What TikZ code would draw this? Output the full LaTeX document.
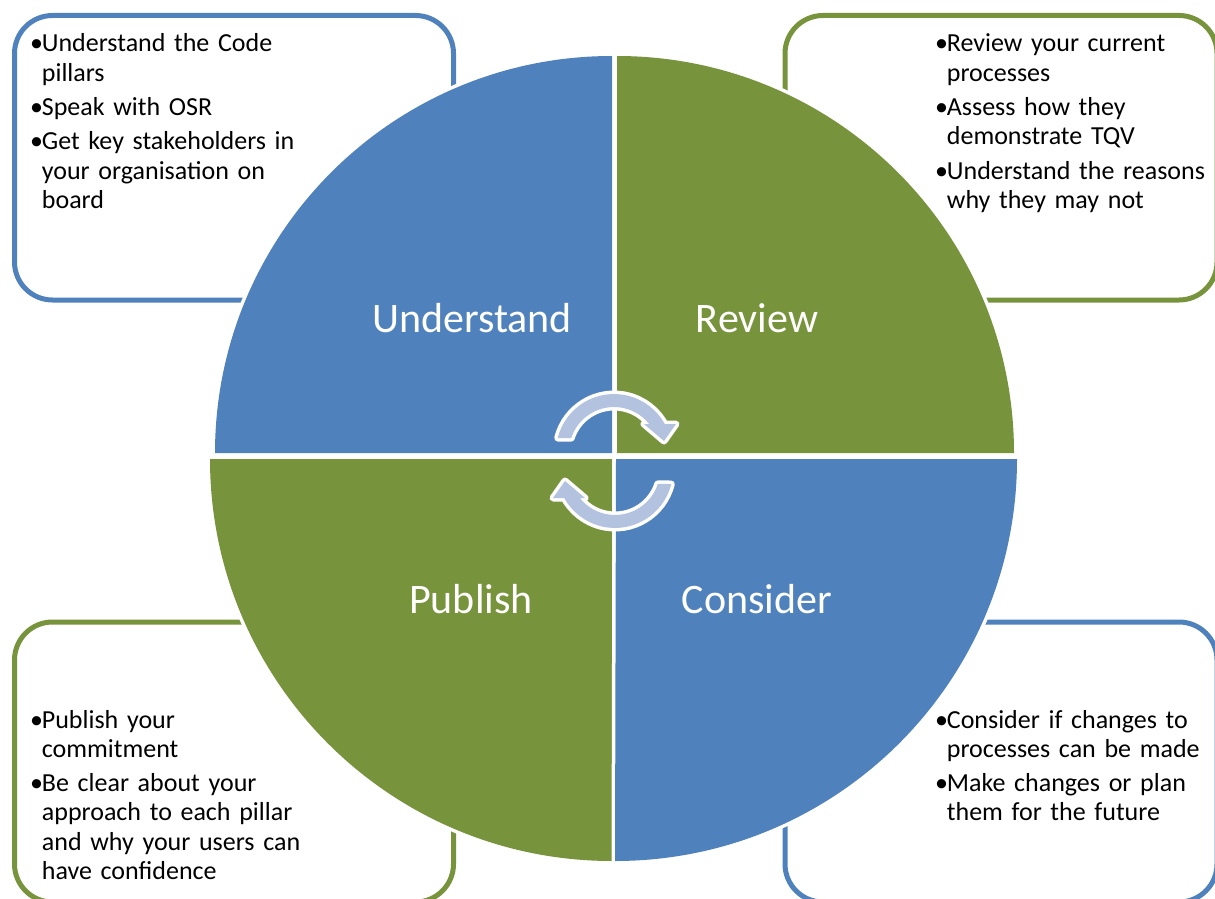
\documentclass[tikz,border=0pt]{standalone}
\usepackage{fontspec}
\setmainfont{Carlito}
\definecolor{quadblue}{HTML}{4F81BD}
\definecolor{quadgreen}{HTML}{77933C}
\definecolor{arrowfill}{HTML}{B3C2DE}
\newlength{\bulw}\setlength{\bulw}{11.7pt}
\newcommand{\bul}{\hangindent=\bulw\hangafter=1\makebox[\bulw][l]{•}}
\newcommand{\nbul}{\par\vspace{5pt}\bul}
\tikzset{
  infobox/.style={line width=5pt, rounded corners=38pt},
  quadrant/.style={preaction={draw=white, line width=7pt}},
  cyclearrow/.style={fill=arrowfill, preaction={draw=white, line width=7pt, line join=round}},
  bullets/.style={anchor=base west, inner sep=0pt, text width=300pt, align=left, font=\fontsize{26}{29.3}\selectfont},
  title/.style={anchor=base, inner sep=0pt, text=white, font=\fontsize{42}{50}\selectfont}
}

\begin{document}
\begin{tikzpicture}[x=1pt,y=1pt,yscale=-1]
  \useasboundingbox (0,0) rectangle (1215,899);

  %Rounded boxes behind the circle
  \draw [infobox, quadblue] (14.5,15.5) rectangle (453.5,300);
  \draw [infobox, quadgreen] (785,15.5) rectangle (1217,300);
  \draw [infobox, quadgreen] (14.5,622) rectangle (453.5,902);
  \draw [infobox, quadblue] (785,622) rectangle (1217,902);

  %Shape: quadrants
  \fill [quadrant, quadblue] (612,453) -- (215,453) arc[start angle=180, end angle=270, radius=397] -- cycle;
  \fill [quadrant, quadgreen] (617,453) -- (617,56) arc[start angle=270, end angle=360, radius=397] -- cycle;
  \fill [quadrant, quadgreen] (612,459) -- (612,861) arc[start angle=90, end angle=180, radius=402] -- cycle;
  \fill [quadrant, quadblue] (616,459) -- (1017,459) arc[start angle=0, end angle=90, radius=402] -- cycle;

  %Shape: circular arrows
  \path [cyclearrow] (557.7,438) arc[start angle=194, end angle=331.1, radius=58] -- (676,424) -- (664,441) -- (644,424) -- (649.2,424) arc[start angle=321.5, end angle=198.1, radius=45] -- cycle;
  \begin{scope}[rotate around={180:(614.5,461)}]
    \path [cyclearrow] (557.7,438) arc[start angle=194, end angle=331.1, radius=58] -- (676,424) -- (664,441) -- (644,424) -- (649.2,424) arc[start angle=321.5, end angle=198.1, radius=45] -- cycle;
  \end{scope}

  % Text Node
  \node [title] (understand) at (472,332) {Understand};
  \node [title] (review) at (757,332) {Review};
  \node [title] (publish) at (471,613) {Publish};
  \node [title] (consider) at (757,613) {Consider};

  % Text Node
  \node [bullets] (understandlist) at (30,52) {\bul Understand the Code\newline pillars\nbul Speak with OSR\nbul Get key stakeholders in\newline your organisation on\newline board\par};
  % Text Node
  \node [bullets] (reviewlist) at (935,52) {\bul Review your current\newline processes\nbul Assess how they\newline demonstrate TQV\nbul Understand the reasons\newline why they may not\par};
  % Text Node
  \node [bullets] (publishlist) at (30,728) {\bul Publish your\newline commitment\nbul Be clear about your\newline approach to each pillar\newline and why your users can\newline have confidence\par};
  % Text Node
  \node [bullets] (considerlist) at (935,728) {\bul Consider if changes to\newline processes can be made\nbul Make changes or plan\newline them for the future\par};
\end{tikzpicture}
\end{document}
